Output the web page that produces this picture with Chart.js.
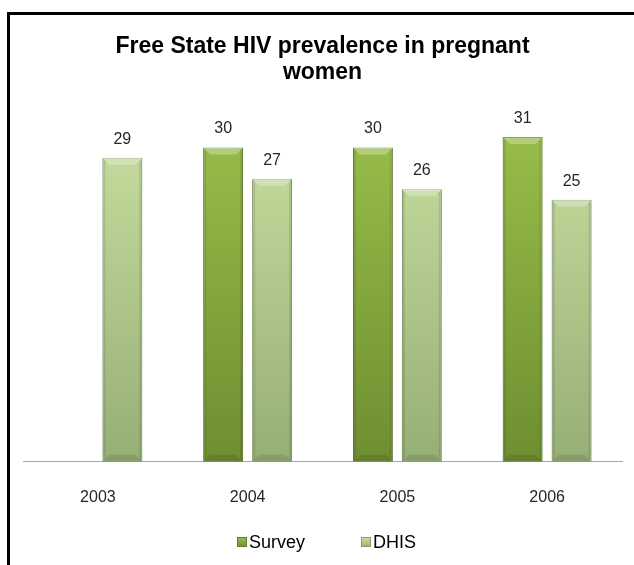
<!DOCTYPE html>
<html>
<head>
<meta charset="utf-8">
<script src="https://cdn.jsdelivr.net/npm/chart.js@4/dist/chart.umd.min.js"></script>
<style>
  html, body { margin: 0; padding: 0; background: #ffffff; overflow: hidden; }
  #wrap { position: relative; width: 634px; height: 565px; }
  #c { position: absolute; left: 0; top: 0; }
  #frame { position: absolute; left: 7px; top: 12px; width: 700px; height: 700px;
           border-left: 3px solid #000; border-top: 3px solid #000; pointer-events: none; }
</style>
</head>
<body>
<div id="wrap">
  <canvas id="c" width="634" height="565"></canvas>
  <div id="frame"></div>
</div>
<script>
const titleLines = ['Free State HIV prevalence in pregnant', 'women'];
const categories = ['2003', '2004', '2005', '2006'];
const surveyValues = [null, 30, 30, 31];
const dhisValues = [29, 27, 26, 25];
const seriesNames = ['Survey', 'DHIS'];

const FONT = '"Liberation Sans", Arial, sans-serif';

function makeGrad(ctx, area, top, bottom) {
  const g = ctx.createLinearGradient(0, area.top, 0, area.bottom);
  g.addColorStop(0, top);
  g.addColorStop(1, bottom);
  return g;
}
const palettes = [
  { top: '#9dc24d', bottom: '#6e8e30', border: '#62802a' },
  { top: '#cce2a4', bottom: '#96af75', border: '#889f68' }
];
function bg(i) {
  return function (context) {
    const chart = context.chart;
    const area = chart.chartArea;
    if (!area) return palettes[i].top;
    return makeGrad(chart.ctx, area, palettes[i].top, palettes[i].bottom);
  };
}

const valueLabels = {
  id: 'valueLabels',
  afterDatasetsDraw(chart) {
    const ctx = chart.ctx;
    ctx.save();
    ctx.font = '16px ' + FONT;
    ctx.fillStyle = '#262626';
    ctx.textAlign = 'center';
    ctx.textBaseline = 'alphabetic';
    chart.data.datasets.forEach((ds, di) => {
      const meta = chart.getDatasetMeta(di);
      meta.data.forEach((bar, idx) => {
        const v = ds.data[idx];
        if (v === null || v === undefined) return;
        ctx.fillText(String(v), bar.x, bar.y - 14);
      });
    });
    ctx.restore();
  }
};

const bevel = {
  id: 'bevel',
  afterDatasetsDraw(chart) {
    const ctx = chart.ctx;
    ctx.save();
    chart.data.datasets.forEach((ds, di) => {
      const meta = chart.getDatasetMeta(di);
      meta.data.forEach((bar, idx) => {
        const v = ds.data[idx];
        if (v === null || v === undefined) return;
        const w = bar.width, l = bar.x - w / 2, r = bar.x + w / 2, t = bar.y, b = bar.base;
        const d = 7;
        ctx.fillStyle = 'rgba(255,255,255,0.28)';
        ctx.beginPath();
        ctx.moveTo(l, t); ctx.lineTo(r, t); ctx.lineTo(r - d, t + d); ctx.lineTo(l + d, t + d); ctx.closePath();
        ctx.fill();
        ctx.fillStyle = 'rgba(0,0,0,0.10)';
        ctx.beginPath();
        ctx.moveTo(r, t); ctx.lineTo(r, b); ctx.lineTo(r - 3, b - 3); ctx.lineTo(r - 3, t + 3); ctx.closePath();
        ctx.fill();
        ctx.beginPath();
        ctx.moveTo(l, t); ctx.lineTo(l, b); ctx.lineTo(l + 3, b - 3); ctx.lineTo(l + 3, t + 3); ctx.closePath();
        ctx.fill();
        ctx.fillStyle = 'rgba(0,0,0,0.10)';
        ctx.beginPath();
        ctx.moveTo(l, b); ctx.lineTo(r, b); ctx.lineTo(r - d, b - d); ctx.lineTo(l + d, b - d); ctx.closePath();
        ctx.fill();
      });
    });
    ctx.restore();
  }
};

const customLegend = {
  id: 'customLegend',
  afterDraw(chart) {
    const ctx = chart.ctx;
    ctx.save();
    ctx.font = '18px ' + FONT;
    ctx.textBaseline = 'middle';
    ctx.textAlign = 'left';
    const y = 542;
    const xs = [237, 361];
    chart.data.datasets.forEach((ds, di) => {
      const x = xs[di];
      const g = ctx.createLinearGradient(0, y - 5, 0, y + 5);
      g.addColorStop(0, palettes[di].top);
      g.addColorStop(1, palettes[di].bottom);
      ctx.fillStyle = g;
      ctx.fillRect(x, y - 5, 10, 10);
      ctx.strokeStyle = palettes[di].border;
      ctx.lineWidth = 1;
      ctx.strokeRect(x + 0.5, y - 4.5, 9, 9);
      ctx.fillStyle = '#000000';
      ctx.fillText(ds.label, x + 12, y + 1);
    });
    ctx.restore();
  }
};

new Chart(document.getElementById('c'), {
  type: 'bar',
  data: {
    labels: categories,
    datasets: [
      { label: seriesNames[0], data: surveyValues, backgroundColor: bg(0),
        borderColor: palettes[0].border, borderWidth: 1 },
      { label: seriesNames[1], data: dhisValues, backgroundColor: bg(1),
        borderColor: palettes[1].border, borderWidth: 1 }
    ]
  },
  options: {
    responsive: false,
    animation: false,
    devicePixelRatio: 1,
    layout: { padding: { left: 23, right: 12, top: 0, bottom: 32 } },
    datasets: { bar: { categoryPercentage: 0.654, barPercentage: 0.816 } },
    plugins: {
      legend: { display: false },
      tooltip: { enabled: false },
      title: {
        display: true,
        text: titleLines,
        color: '#000000',
        font: { family: FONT, size: 23, weight: 'bold', lineHeight: 1.13 },
        padding: { top: 34, bottom: 9 }
      }
    },
    scales: {
      x: {
        grid: { display: false, drawTicks: false },
        border: { display: true, color: '#a6a6a6', width: 1 },
        ticks: { color: '#262626', font: { family: FONT, size: 16 }, padding: 26 }
      },
      y: {
        display: false,
        min: 0,
        max: 35
      }
    }
  },
  plugins: [bevel, valueLabels, customLegend]
});
</script>
</body>
</html>
